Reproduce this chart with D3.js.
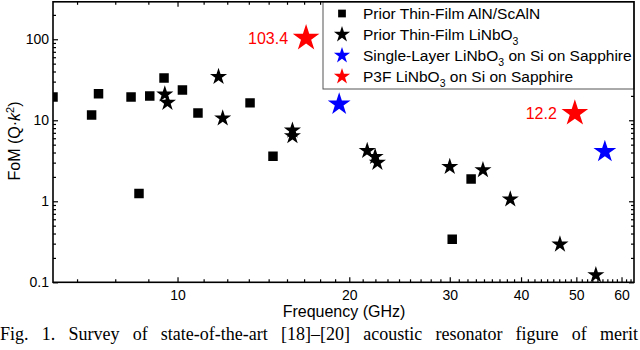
<!DOCTYPE html>
<meta charset="utf-8">
<script src="https://d3js.org/d3.v7.min.js"></script>
<style>
  body { margin: 0; background: #fff; }
  text { font-family: "Liberation Sans", Arial, sans-serif; }
</style>
<div id="chart"></div>
<script>

// Prior thin-film AlN/ScAlN (squares)
var alnFreq = [6.05, 7.07, 7.27, 8.29, 8.56, 8.94, 9.47, 10.2, 10.86, 13.4, 14.7, 30.3, 32.7];
var alnFom  = [19.4, 11.6, 21.3, 19.4, 1.25, 20.0, 33.3, 23.7, 12.3, 16.4, 3.6, 0.34, 1.88];

// Prior thin-film LiNbO3 (black stars)
var lnFreq = [9.5, 9.6, 11.8, 12.0, 15.9, 15.9, 21.5, 22.2, 22.4, 30.0, 34.3, 38.3, 46.8, 54.1];
var lnFom  = [20.9, 16.5, 34.5, 10.6, 7.5, 6.4, 4.2, 3.55, 3.0, 2.67, 2.43, 1.06, 0.294, 0.123];

// Single-layer LiNbO3 on Si on sapphire (blue stars)
var slFreq = [19.2, 56.1];
var slFom  = [15.8, 4.1];

// P3F LiNbO3 on Si on sapphire (red stars)
var p3fFreq = [16.8, 49.7];
var p3fFom  = [103.4, 12.2];
var p3fLabels = ["103.4", "12.2"];

var xTicks = [10, 20, 30, 40, 50, 60];
var yTicks = [0.1, 1, 10, 100];

var caption = "Fig. 1. Survey of state-of-the-art [18]\u2013[20] acoustic resonator figure of merit";

// plot box (don't use "top" as a global, it is window.top)
var box = {left: 53, right: 634, top: 1.8, bottom: 282.3};

var svg = d3.select("#chart")
  .append("svg")
    .attr("width", 640)
    .attr("height", 350);

var x = d3.scaleLog().domain([6.05, 63.1]).range([box.left, box.right]);
var y = d3.scaleLog().domain([0.1, 290]).range([box.bottom, box.top]);

// minor ticks: 8 per major step on x (Origin style), 2..9 per decade on y
var xMinor = [];
for (var a = 0; a <= 60; a += 10)
  for (var k = 1; k <= 8; k++) {
    var v = a + 10 * k / 9;
    if (v > x.domain()[0] && v < x.domain()[1]) xMinor.push(v);
  }
var yMinor = [];
yTicks.forEach(function(d) {
  for (var k = 2; k <= 9; k++) if (d * k < y.domain()[1]) yMinor.push(d * k);
});

function styleAxis(g) {
  g.select(".domain").remove();
  g.selectAll("line").attr("stroke", "#000").attr("stroke-width", 1.2);
  g.selectAll("text").attr("font-size", 14).attr("fill", "#000")
    .attr("font-family", "Liberation Sans, Arial, sans-serif");
}

// bottom
svg.append("g").attr("transform", "translate(0," + box.bottom + ")")
  .call(d3.axisBottom(x).tickValues(xTicks).tickSize(-5).tickSizeOuter(0)
    .tickPadding(8).tickFormat(d3.format("d")))
  .call(styleAxis);
svg.append("g").attr("transform", "translate(0," + box.bottom + ")")
  .call(d3.axisBottom(x).tickValues(xMinor).tickSize(-3).tickSizeOuter(0).tickFormat(""))
  .call(styleAxis);
// top
svg.append("g").attr("transform", "translate(0," + box.top + ")")
  .call(d3.axisTop(x).tickValues(xTicks).tickSize(-5).tickSizeOuter(0).tickFormat(""))
  .call(styleAxis);
svg.append("g").attr("transform", "translate(0," + box.top + ")")
  .call(d3.axisTop(x).tickValues(xMinor).tickSize(-3).tickSizeOuter(0).tickFormat(""))
  .call(styleAxis);
// left
svg.append("g").attr("transform", "translate(" + box.left + ",0)")
  .call(d3.axisLeft(y).tickValues(yTicks).tickSize(-5).tickSizeOuter(0)
    .tickPadding(4).tickFormat(function(d) { return d < 1 ? "0.1" : d3.format("d")(d); }))
  .call(styleAxis);
svg.append("g").attr("transform", "translate(" + box.left + ",0)")
  .call(d3.axisLeft(y).tickValues(yMinor).tickSize(-3).tickSizeOuter(0).tickFormat(""))
  .call(styleAxis);
// right
svg.append("g").attr("transform", "translate(" + box.right + ",0)")
  .call(d3.axisRight(y).tickValues(yTicks).tickSize(-5).tickSizeOuter(0).tickFormat(""))
  .call(styleAxis);
svg.append("g").attr("transform", "translate(" + box.right + ",0)")
  .call(d3.axisRight(y).tickValues(yMinor).tickSize(-3).tickSizeOuter(0).tickFormat(""))
  .call(styleAxis);

// clip markers to the plot box
svg.append("clipPath").attr("id", "plotclip")
  .append("rect").attr("x", box.left).attr("y", box.top)
  .attr("width", box.right - box.left).attr("height", box.bottom - box.top);

var marks = svg.append("g").attr("clip-path", "url(#plotclip)");

function pts(fx, fy) { return fx.map(function(f, i) { return [f, fy[i]]; }); }
function place(d) { return "translate(" + x(d[0]) + "," + y(d[1]) + ")"; }

var square = d3.symbol().type(d3.symbolSquare).size(90);
var star = function(R) { return d3.symbol().type(d3.symbolStar).size(R * R / 0.8908130915292852); };

marks.selectAll(".aln").data(pts(alnFreq, alnFom)).enter().append("path")
  .attr("transform", place).attr("d", square()).attr("fill", "#000");

marks.selectAll(".ln").data(pts(lnFreq, lnFom)).enter().append("path")
  .attr("transform", place).attr("d", star(9)()).attr("fill", "#000");

marks.selectAll(".sl").data(pts(slFreq, slFom)).enter().append("path")
  .attr("transform", place).attr("d", star(12)()).attr("fill", "#0000ff");

marks.selectAll(".p3f").data(pts(p3fFreq, p3fFom)).enter().append("path")
  .attr("transform", place).attr("d", star(14)()).attr("fill", "#ff0000");

// value labels for the P3F points
svg.selectAll(".p3flab").data(pts(p3fFreq, p3fFom)).enter().append("text")
  .attr("x", function(d) { return x(d[0]) - 18; })
  .attr("y", function(d) { return y(d[1]); })
  .attr("dy", "0.36em")
  .attr("text-anchor", "end")
  .attr("font-size", 16)
  .attr("fill", "#ff0000")
  .text(function(d, i) { return p3fLabels[i]; });

// axis titles
svg.append("text")
  .attr("x", 344).attr("y", 317)
  .attr("text-anchor", "middle").attr("font-size", 16)
  .text("Frequency (GHz)");

var yl = svg.append("text")
  .attr("transform", "translate(20,141) rotate(-90)")
  .attr("text-anchor", "middle").attr("font-size", 16);
yl.append("tspan").text("FoM (Q\u00b7");
yl.append("tspan").attr("font-style", "italic").text("k");
yl.append("tspan").attr("font-size", 11).attr("dy", -6).text("2");
yl.append("tspan").attr("dy", 6).text(")");

// legend
var lgX = 323, lgBottom = 89;
svg.append("rect")
  .attr("x", lgX).attr("y", box.top)
  .attr("width", box.right - lgX).attr("height", lgBottom - box.top)
  .attr("fill", "#fff").attr("stroke", "#555").attr("stroke-width", 1);

var legend = [
  {sym: d3.symbol().type(d3.symbolSquare).size(60), col: "#000", pre: "Prior Thin-Film AlN/ScAlN", sub: "", post: ""},
  {sym: star(8.5), col: "#000", pre: "Prior Thin-Film LiNbO", sub: "3", post: ""},
  {sym: star(8.5), col: "#0000ff", pre: "Single-Layer LiNbO", sub: "3", post: " on Si on Sapphire"},
  {sym: star(8.5), col: "#ff0000", pre: "P3F LiNbO", sub: "3", post: " on Si on Sapphire"}
];

legend.forEach(function(d, i) {
  var cy = 13.5 + i * 21;
  svg.append("path")
    .attr("transform", "translate(342," + cy + ")")
    .attr("d", d.sym())
    .attr("fill", d.col);
  var t = svg.append("text").attr("x", 363).attr("y", cy).attr("dy", "0.36em")
    .attr("font-size", 15.5).attr("fill", "#000");
  t.append("tspan").text(d.pre);
  if (d.sub) {
    t.append("tspan").attr("font-size", 10.5).attr("dy", 5).text(d.sub);
    t.append("tspan").attr("dy", -5).text(d.post);
  }
});

// frame
svg.append("rect")
  .attr("x", box.left).attr("y", box.top)
  .attr("width", box.right - box.left).attr("height", box.bottom - box.top)
  .attr("fill", "none").attr("stroke", "#000").attr("stroke-width", 1.6);

// caption below the figure, justified to the page width
var cap = svg.append("text")
  .attr("x", 0).attr("y", 340)
  .attr("font-size", 18)
  .style("font-family", "Liberation Serif, Times New Roman, serif")
  .text(caption);
var spaces = caption.split(" ").length - 1;
var extra = (638 - cap.node().getComputedTextLength()) / spaces;
cap.style("word-spacing", extra + "px");

</script>
